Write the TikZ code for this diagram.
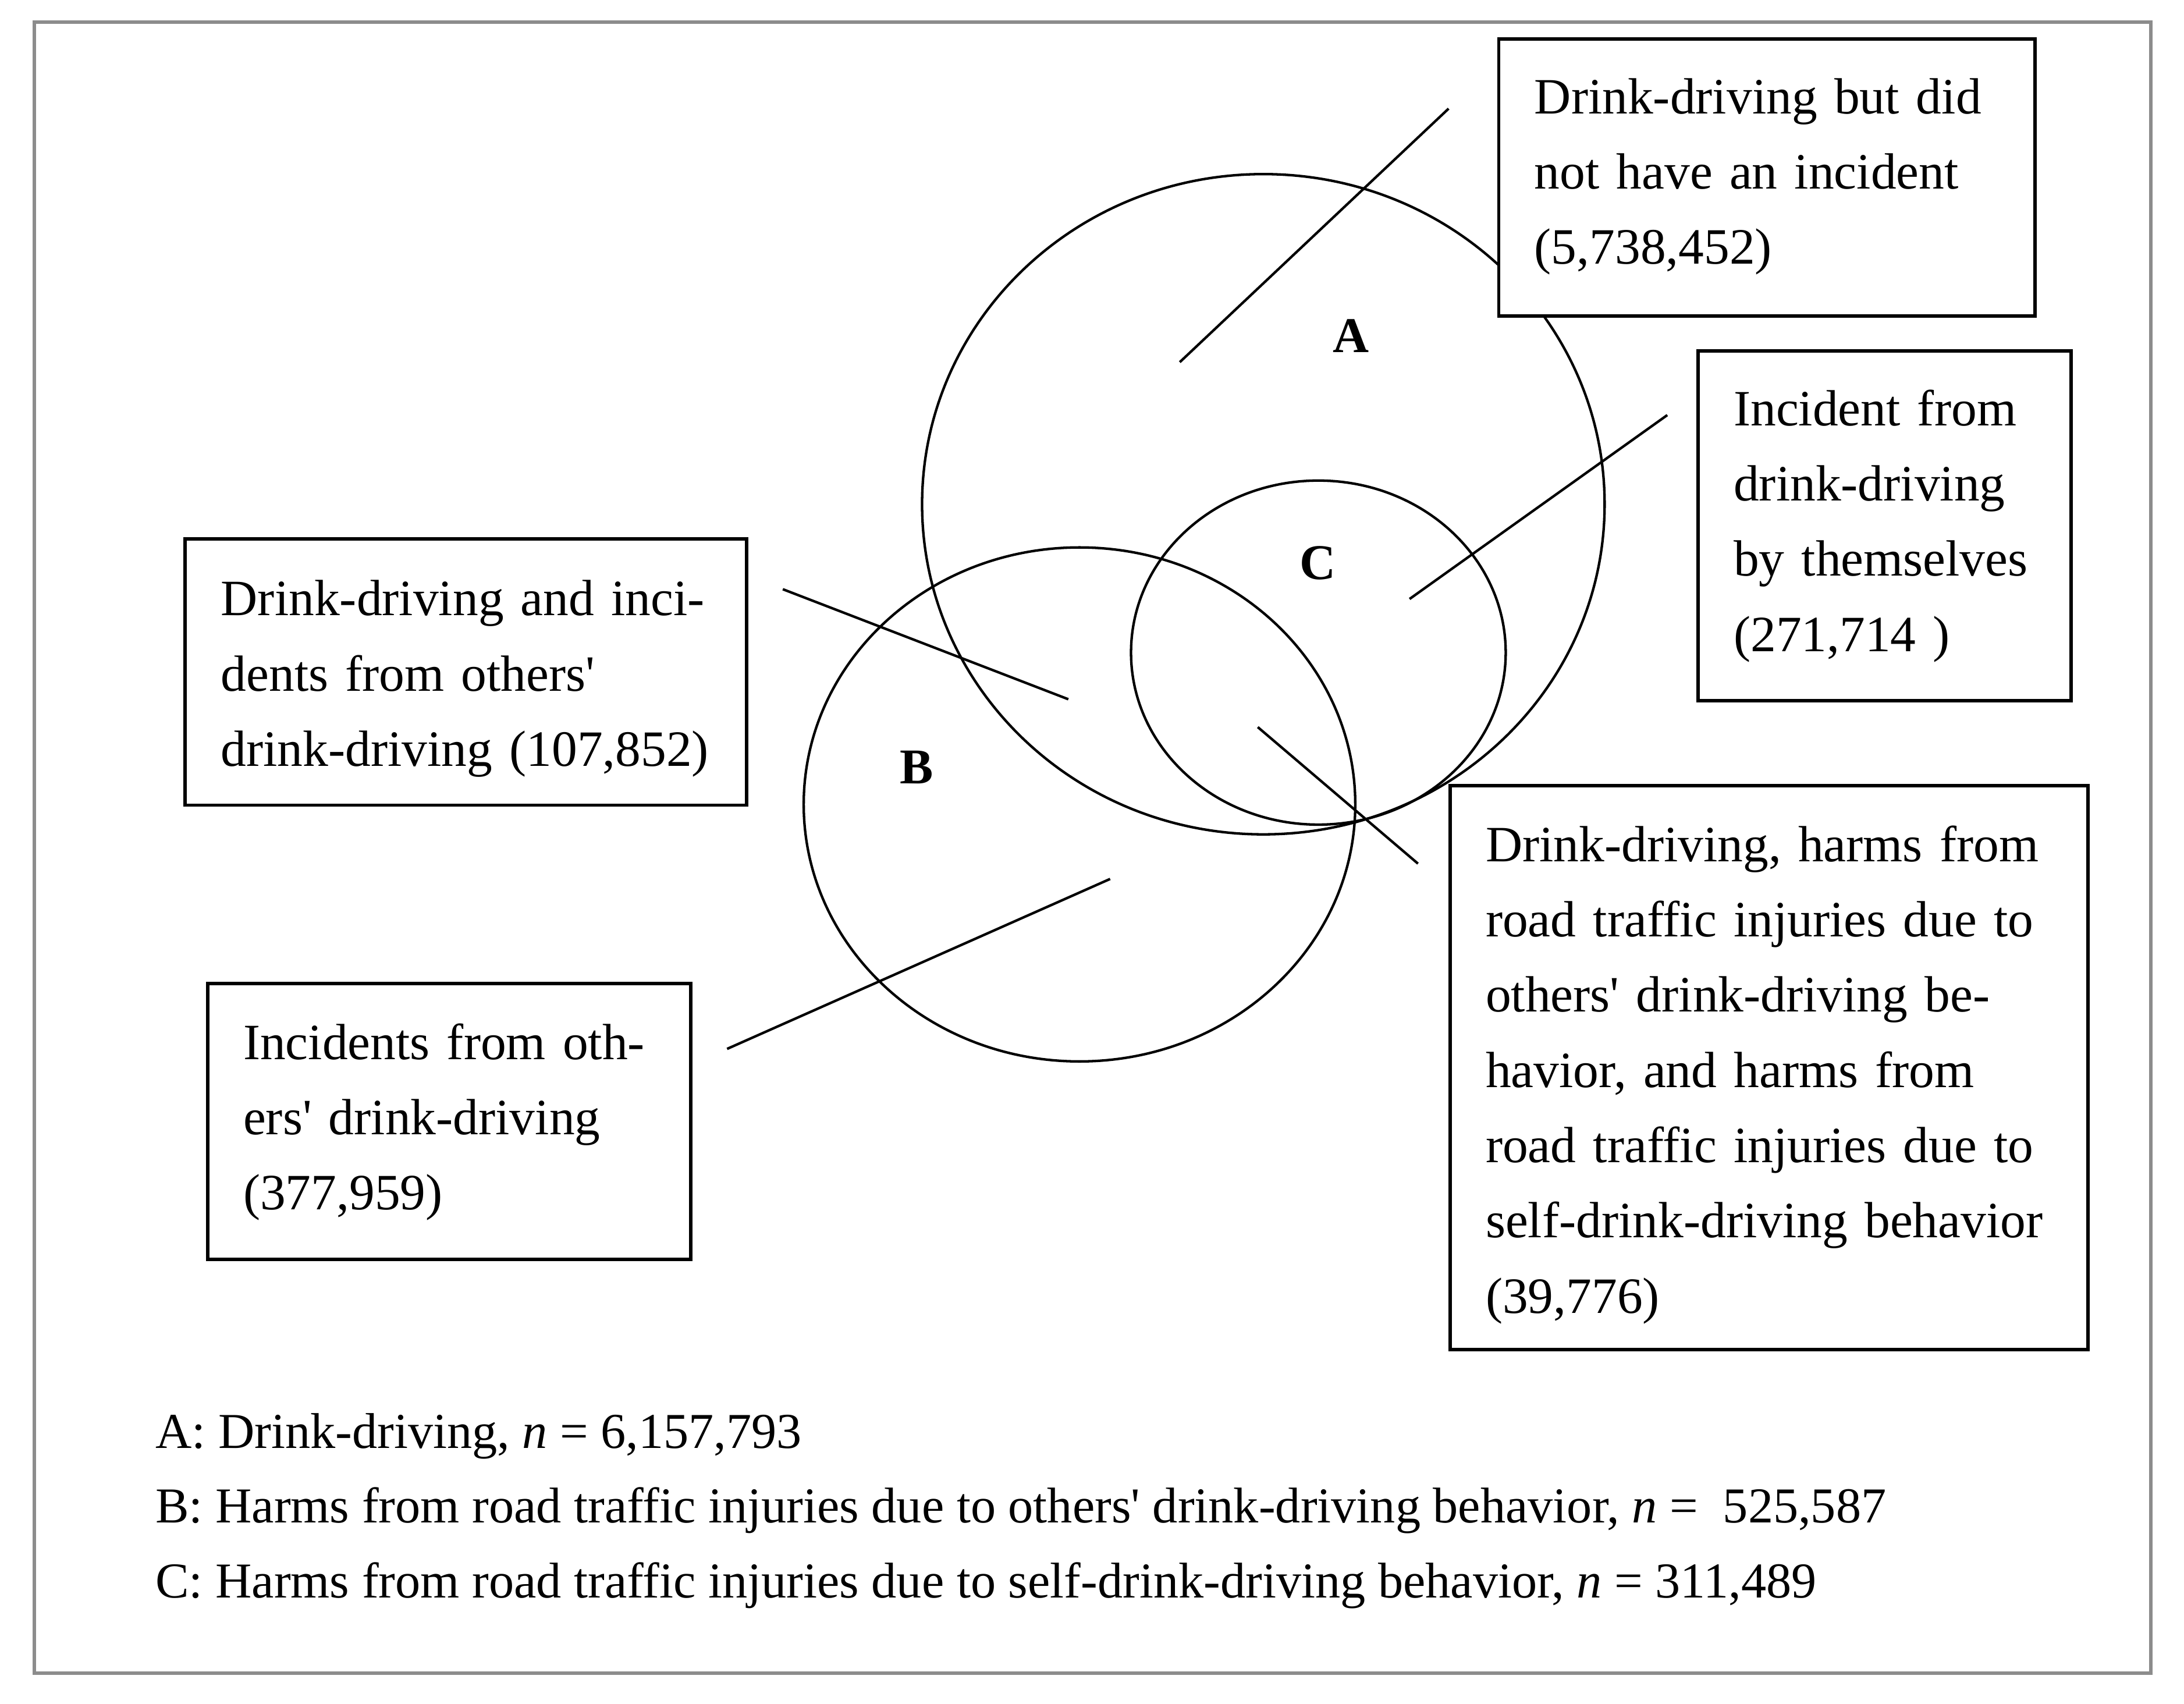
\documentclass[tikz,border=0pt]{standalone}
\usepackage{fontspec}
\setmainfont{Liberation Serif}
\usetikzlibrary{shapes.geometric}
\definecolor{framegray}{RGB}{140,140,140}
\begin{document}
\begin{tikzpicture}[x=0.3064pt,y=-0.3064pt,
  infobox/.style={draw=black,fill=white,line width=0.75pt,rectangle,inner sep=0pt},
  boxtext/.style={anchor=base west,inner sep=0pt,align=left,font=\fontsize{11.2}{16.55}\selectfont},
  venn/.style={draw=black,line width=0.55pt,ellipse,inner sep=0pt},
  lead/.style={draw=black,line width=0.55pt},
  setlabel/.style={font=\fontsize{11}{12}\selectfont\bfseries,inner sep=0pt},
  legend/.style={anchor=base west,inner sep=0pt,font=\fontsize{11.05}{12}\selectfont}]
\useasboundingbox (0,0) rectangle (1568,1223);
\draw[framegray,line width=0.8pt] (24.5,16) rectangle (1544,1201);

% Venn circles
\node[venn,minimum width=150.14pt,minimum height=145.23pt] (cA) at (907,362) {};
\node[venn,minimum width=121.33pt,minimum height=113.06pt] (cB) at (775,577.5) {};
\node[venn,minimum width=82.42pt,minimum height=75.68pt] (cC) at (946.5,468.5) {};

% set labels
\node[setlabel] (lA) at (970,241) {A};
\node[setlabel] (lC) at (946,404) {C};
\node[setlabel] (lB) at (658,551) {B};

% leader lines
\coordinate (p1a) at (1040,78);  \coordinate (p1b) at (847,260);
\coordinate (p2a) at (1197,298); \coordinate (p2b) at (1012,430);
\coordinate (p3a) at (562,423);  \coordinate (p3b) at (767,502);
\coordinate (p4a) at (522,753);  \coordinate (p4b) at (797,631);
\coordinate (p5a) at (903,522);  \coordinate (p5b) at (1018,620);
\draw[lead] (p1a) -- (p1b);
\draw[lead] (p2a) -- (p2b);
\draw[lead] (p3a) -- (p3b);
\draw[lead] (p4a) -- (p4b);
\draw[lead] (p5a) -- (p5b);

% boxes
\node[infobox,minimum width=117.96pt,minimum height=60.97pt] (b1) at (1268.5,127.5) {};
\node[infobox,minimum width=82.12pt,minimum height=76.91pt] (b2) at (1353,377.5) {};
\node[infobox,minimum width=123.48pt,minimum height=58.52pt] (b3) at (334.5,482.5) {};
\node[infobox,minimum width=106.32pt,minimum height=60.67pt] (b4) at (322.5,805) {};
\node[infobox,minimum width=140.33pt,minimum height=124.09pt] (b5) at (1270,766.5) {};

\node[boxtext,text width=110pt] (t1) at (1101,81.5)
  {\mbox{Drink-driving but did}\\\mbox{not have an incident}\\\mbox{(5,738,452)}};
\node[boxtext,text width=75pt] (t2) at (1244,305.5)
  {\mbox{Incident from}\\\mbox{drink-driving}\\\mbox{by themselves}\\\mbox{(271,714 )}};
\node[boxtext,text width=115pt] (t3) at (158,442)
  {\mbox{Drink-driving and inci-}\\\mbox{dents from others\textquotesingle}\\\mbox{drink-driving (107,852)}};
\node[boxtext,text width=100pt] (t4) at (174,760.5)
  {\mbox{Incidents from oth-}\\\mbox{ers\textquotesingle{} drink-driving}\\\mbox{(377,959)}};
\node[boxtext,text width=132pt] (t5) at (1066,618.5)
  {\mbox{Drink-driving, harms from}\\\mbox{road traffic injuries due to}\\\mbox{others\textquotesingle{} drink-driving be-}\\\mbox{havior, and harms from}\\\mbox{road traffic injuries due to}\\\mbox{self-drink-driving behavior}\\\mbox{(39,776)}};

% legend
\node[legend] (lgA) at (111,1039.5) {A: Drink-driving, \textit{n} = 6,157,793};
\node[legend] (lgB) at (111,1093) {B: Harms from road traffic injuries due to others\textquotesingle{} drink-driving behavior, \textit{n} =\ \ 525,587};
\node[legend] (lgC) at (111,1147) {C: Harms from road traffic injuries due to self-drink-driving behavior, \textit{n} = 311,489};
\end{tikzpicture}
\end{document}
